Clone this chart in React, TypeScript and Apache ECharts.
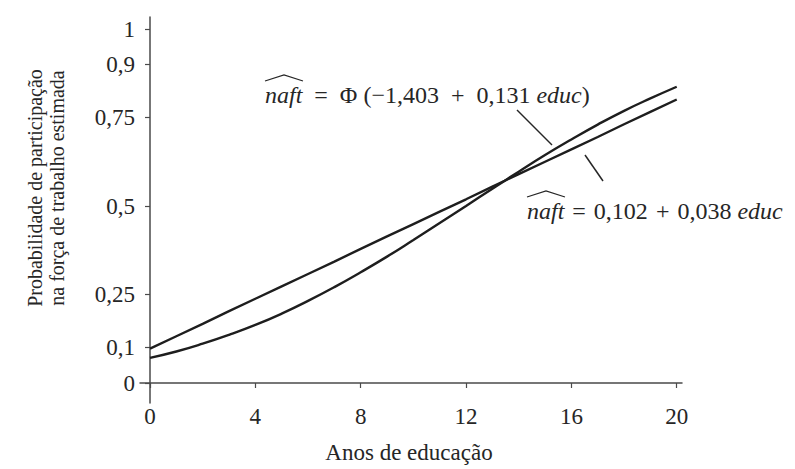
import React, { useEffect, useRef } from "react";
import * as echarts from "echarts";

const educ = [0, 1, 2, 3, 4, 5, 6, 7, 8, 9, 10, 11, 12, 13, 14, 15, 16, 17, 18, 19, 20];
const linearValues = [0.097, 0.132, 0.167, 0.203, 0.238, 0.273, 0.308, 0.343, 0.379, 0.414, 0.449, 0.484, 0.519, 0.555, 0.59, 0.625, 0.66, 0.695, 0.731, 0.766, 0.801];
const probitValues = [0.071, 0.089, 0.111, 0.136, 0.164, 0.196, 0.232, 0.271, 0.313, 0.357, 0.404, 0.452, 0.5, 0.549, 0.597, 0.644, 0.688, 0.73, 0.769, 0.804, 0.837];
const xTicks = [0, 4, 8, 12, 16, 20];
const yTicks = [0, 0.1, 0.25, 0.5, 0.75, 0.9, 1];

const FONT = "Liberation Serif";
const INK = "#262626";
const SP = "\u2002";
const SP3 = "\u2004";

const r = (size: number) => ({ fontFamily: FONT, fontSize: size, fill: INK, fontStyle: "normal" });
const it = (size: number) => ({ fontFamily: FONT, fontSize: size, fill: INK, fontStyle: "italic" });

export default function App() {
  const ref = useRef<HTMLDivElement>(null);
  useEffect(() => {
    if (!ref.current) return;
    const chart = echarts.init(ref.current, null, { renderer: "svg" });
    const fmt = (v: number) => String(v).replace(".", ",");
    chart.setOption({
      animation: false,
      backgroundColor: "#ffffff",
      textStyle: { fontFamily: FONT },
      grid: { left: 140, right: 113, top: 17, bottom: 66 },
      xAxis: {
        type: "value",
        min: -0.38,
        max: 20.2,
        splitLine: { show: false },
        axisLine: { show: true, lineStyle: { color: "#4a4a4a", width: 1.5 } },
        axisTick: { show: true, customValues: xTicks, length: 5, lineStyle: { color: "#4a4a4a", width: 1.2 } },
        axisLabel: {
          customValues: xTicks,
          formatter: fmt,
          fontFamily: FONT,
          fontSize: 23,
          color: INK,
          margin: 2,
        },
      },
      yAxis: {
        type: "value",
        min: -0.0565,
        max: 1.034,
        splitLine: { show: false },
        axisLine: { show: true, lineStyle: { color: "#4a4a4a", width: 1.5 } },
        axisTick: { show: true, customValues: yTicks, length: 5, lineStyle: { color: "#4a4a4a", width: 1.2 } },
        axisLabel: {
          customValues: yTicks,
          formatter: fmt,
          fontFamily: FONT,
          fontSize: 23,
          color: INK,
          margin: 5,
        },
      },
      series: [
        {
          name: "linear",
          type: "line",
          data: educ.map((x, i) => [x, linearValues[i]]),
          showSymbol: false,
          smooth: false,
          lineStyle: { color: "#1e1e1e", width: 2.4 },
        },
        {
          name: "probit",
          type: "line",
          data: educ.map((x, i) => [x, probitValues[i]]),
          showSymbol: false,
          smooth: true,
          lineStyle: { color: "#1e1e1e", width: 2.4 },
        },
      ],
      graphic: [
        {
          type: "text",
          x: 46,
          y: 188,
          rotation: Math.PI / 2,
          style: {
            text: "{r|Probabilidade de participação}\n{r|na força de trabalho estimada}",
            fontFamily: FONT,
            fontSize: 20,
            fill: INK,
            align: "center",
            verticalAlign: "middle",
            rich: { r: { ...r(20), lineHeight: 22 } },
          },
        },
        {
          type: "text",
          x: 409,
          y: 452,
          style: {
            text: "{r|Anos de educação}",
            fontFamily: FONT,
            fontSize: 23,
            fill: INK,
            align: "center",
            verticalAlign: "middle",
            rich: { r: r(23) },
          },
        },
        {
          type: "text",
          x: 265,
          y: 95,
          style: {
            text: `{i|naft}{r|${SP}=${SP}Φ (−1,403${SP}+${SP}0,131 }{i|educ}{r|)}`,
            fontFamily: FONT,
            fontSize: 24,
            fill: INK,
            align: "left",
            verticalAlign: "middle",
            rich: { i: it(24), r: r(24) },
          },
        },
        {
          type: "polyline",
          shape: { points: [[265, 81], [284, 75], [303, 81]] },
          style: { stroke: INK, lineWidth: 1.2, fill: "none" },
        },
        {
          type: "text",
          x: 527,
          y: 211,
          style: {
            text: `{i|naft}{r|${SP3}=${SP3}0,102${SP3}+${SP3}0,038 }{i|educ}`,
            fontFamily: FONT,
            fontSize: 24,
            fill: INK,
            align: "left",
            verticalAlign: "middle",
            rich: { i: it(24), r: r(24) },
          },
        },
        {
          type: "polyline",
          shape: { points: [[527, 197], [546, 191], [565, 197]] },
          style: { stroke: INK, lineWidth: 1.2, fill: "none" },
        },
        {
          type: "line",
          shape: { x1: 517, y1: 110, x2: 552, y2: 145 },
          style: { stroke: INK, lineWidth: 1.5 },
        },
        {
          type: "line",
          shape: { x1: 585, y1: 155, x2: 603, y2: 181 },
          style: { stroke: INK, lineWidth: 1.5 },
        },
      ],
    });
    return () => chart.dispose();
  }, []);
  return (
    <div
      ref={ref}
      style={{ position: "fixed", left: 0, top: 0, width: 795, height: 469, background: "#fff" }}
    />
  );
}
